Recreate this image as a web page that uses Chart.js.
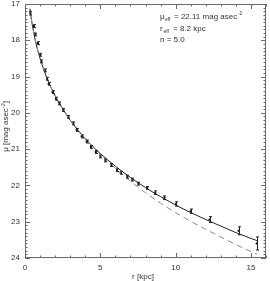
<!DOCTYPE html>
<html>
<head>
<meta charset="utf-8">
<script src="https://cdn.jsdelivr.net/npm/chart.js@4.4.1/dist/chart.umd.min.js"></script>
<style>
  html, body { margin: 0; padding: 0; background: #fff; }
  #wrap { width: 270px; height: 281px; }
</style>
</head>
<body>
<div id="wrap"><canvas id="profile" width="270" height="281"></canvas></div>
<script>
// measured profile (r in kpc, mu in mag asec^-2)
const rData = [0.36, 0.58, 0.69, 0.84, 1.02, 1.09, 1.30, 1.46, 1.57, 1.83, 2.05, 2.29, 2.55, 2.88, 3.21, 3.43, 3.76, 4.09,
  4.38, 4.70, 5.01, 5.34, 5.74, 6.11, 6.35, 6.79, 7.12, 7.53, 8.11, 8.65, 9.26, 10.03, 11.0, 12.25, 14.18, 15.38];
const muData = [17.25, 17.61, 17.84, 18.08, 18.40, 18.58, 18.83, 19.06, 19.20, 19.43, 19.61, 19.74, 19.92, 20.11, 20.29, 20.47, 20.65, 20.79,
  20.94, 21.08, 21.20, 21.31, 21.44, 21.58, 21.65, 21.76, 21.84, 21.95, 22.07, 22.20, 22.34, 22.51, 22.71, 22.94, 23.25, 23.60];
const muErr = [0.05, 0.04, 0.04, 0.04, 0.04, 0.04, 0.04, 0.04, 0.04, 0.04, 0.04, 0.04, 0.04, 0.04, 0.04, 0.04, 0.04, 0.04,
  0.04, 0.04, 0.04, 0.04, 0.04, 0.04, 0.04, 0.04, 0.04, 0.04, 0.04, 0.05, 0.05, 0.06, 0.06, 0.08, 0.11, 0.18];

// fitted profiles
const rLine = [0.33, 0.4, 0.5, 0.75, 1, 1.5, 2, 2.5, 3, 4, 5, 6, 7, 8, 9, 10, 11, 12, 13, 14, 15, 15.4];
const muSersic = [17.13, 17.35, 17.61, 18.12, 18.50, 19.09, 19.53, 19.89, 20.20, 20.71, 21.12, 21.47, 21.78, 22.06, 22.31, 22.54, 22.75, 22.94, 23.12, 23.30, 23.46, 23.52];
const muDashed = [17.13, 17.35, 17.61, 18.12, 18.50, 19.09, 19.53, 19.89, 20.20, 20.72, 21.14, 21.53, 21.88, 22.20, 22.49, 22.75, 22.99, 23.21, 23.42, 23.63, 23.82, 23.89];

const xTicks = [0, 5, 10, 15];
const yTicks = [17, 18, 19, 20, 21, 22, 23, 24];

const FONT = "'Liberation Sans', 'DejaVu Sans', sans-serif";
const AXIS = '#6a6a6a';
const INK = '#333';

const pts = rData.map((r, i) => ({ x: r, y: muData[i] }));
const solid = rLine.map((r, i) => ({ x: r, y: muSersic[i] }));
const dashed = rLine.map((r, i) => ({ x: r, y: muDashed[i] }));

// error bars on the data points
const errorBars = {
  id: 'errorBars',
  afterDatasetsDraw(chart) {
    const { ctx, scales: { x, y } } = chart;
    ctx.save();
    ctx.strokeStyle = '#222';
    ctx.lineWidth = 1;
    rData.forEach((r, i) => {
      const px = Math.round(x.getPixelForValue(r)) + 0.5;
      const y1 = y.getPixelForValue(muData[i] - muErr[i]);
      const y2 = y.getPixelForValue(muData[i] + muErr[i]);
      ctx.beginPath();
      ctx.moveTo(px, y1); ctx.lineTo(px, y2);
      ctx.moveTo(px - 1.5, y1); ctx.lineTo(px + 1.5, y1);
      ctx.moveTo(px - 1.5, y2); ctx.lineTo(px + 1.5, y2);
      ctx.stroke();
    });
    ctx.restore();
  }
};

// IDL style frame: inward ticks on all four sides, labels, titles, annotation
const frame = {
  id: 'frame',
  afterDraw(chart) {
    const { ctx, chartArea: a, scales: { x, y } } = chart;
    ctx.save();
    ctx.strokeStyle = AXIS;
    ctx.lineWidth = 1;
    ctx.strokeRect(a.left + 0.5, a.top + 0.5, a.right - a.left - 1, a.bottom - a.top - 1);

    ctx.beginPath();
    for (let v = 0; v <= 16; v++) {
      const px = Math.round(x.getPixelForValue(v)) + 0.5;
      const len = v % 5 === 0 ? 5 : 2.5;
      ctx.moveTo(px, a.bottom); ctx.lineTo(px, a.bottom - len);
      ctx.moveTo(px, a.top); ctx.lineTo(px, a.top + len);
    }
    for (let k = 170; k <= 240; k++) {
      const py = Math.round(y.getPixelForValue(k / 10)) + 0.5;
      const len = k % 10 === 0 ? 5 : 2.5;
      ctx.moveTo(a.left, py); ctx.lineTo(a.left + len, py);
      ctx.moveTo(a.right, py); ctx.lineTo(a.right - len, py);
    }
    ctx.stroke();

    ctx.fillStyle = INK;
    ctx.font = '8px ' + FONT;
    ctx.textAlign = 'center';
    ctx.textBaseline = 'middle';
    xTicks.forEach(v => ctx.fillText(String(v), x.getPixelForValue(v), 268));
    ctx.textAlign = 'right';
    yTicks.forEach(v => ctx.fillText(String(v), 20, y.getPixelForValue(v)));

    ctx.textAlign = 'center';
    ctx.fillText('r [kpc]', 143, 277);

    ctx.save();
    ctx.translate(6, 126);
    ctx.rotate(-Math.PI / 2);
    ctx.fillText('\u03bc [mag asec', -4, 0);
    const w = ctx.measureText('\u03bc [mag asec').width;
    ctx.font = '5.5px ' + FONT;
    ctx.textAlign = 'left';
    ctx.fillText('-2', -4 + w / 2, -3);
    const w2 = ctx.measureText('-2').width;
    ctx.font = '8px ' + FONT;
    ctx.fillText(']', -4 + w / 2 + w2, 0);
    ctx.restore();

    // annotation
    ctx.textAlign = 'left';
    ctx.textBaseline = 'alphabetic';
    const ax = 160;
    ctx.font = '8px ' + FONT;
    ctx.fillText('\u03bc', ax, 19);
    ctx.font = '5px ' + FONT;
    ctx.fillText('eff', ax + 5, 21);
    ctx.font = '8px ' + FONT;
    ctx.fillText('= 22.11 mag asec', ax + 14, 19);
    let w3 = ctx.measureText('= 22.11 mag asec').width;
    ctx.font = '5px ' + FONT;
    ctx.fillText('-2', ax + 14 + w3 + 0.5, 15);

    ctx.font = '8px ' + FONT;
    ctx.fillText('r', ax, 31);
    ctx.font = '5px ' + FONT;
    ctx.fillText('eff', ax + 3.5, 33);
    ctx.font = '8px ' + FONT;
    ctx.fillText('= 8.2 kpc', ax + 13, 31);
    ctx.fillText('n = 5.0', ax, 42);
    ctx.restore();
  }
};

new Chart(document.getElementById('profile'), {
  type: 'scatter',
  data: {
    datasets: [
      {
        data: dashed,
        showLine: true,
        borderColor: '#8a8a8a',
        borderWidth: 1,
        borderDash: [6, 4],
        pointRadius: 0,
        cubicInterpolationMode: 'monotone'
      },
      {
        data: solid,
        showLine: true,
        borderColor: '#222',
        borderWidth: 1,
        pointRadius: 0,
        cubicInterpolationMode: 'monotone'
      },
      {
        data: pts,
        pointStyle: 'rect',
        pointRadius: 1.4,
        backgroundColor: '#111',
        borderColor: '#111',
        borderWidth: 0
      }
    ]
  },
  options: {
    responsive: false,
    devicePixelRatio: 1,
    animation: false,
    layout: { padding: { left: 25, right: 2, top: 1, bottom: 23 } },
    plugins: { legend: { display: false }, tooltip: { enabled: false } },
    scales: {
      x: { type: 'linear', min: 0, max: 16, display: false },
      y: { type: 'linear', min: 17, max: 24, reverse: true, display: false }
    }
  },
  plugins: [errorBars, frame]
});
</script>
</body>
</html>
